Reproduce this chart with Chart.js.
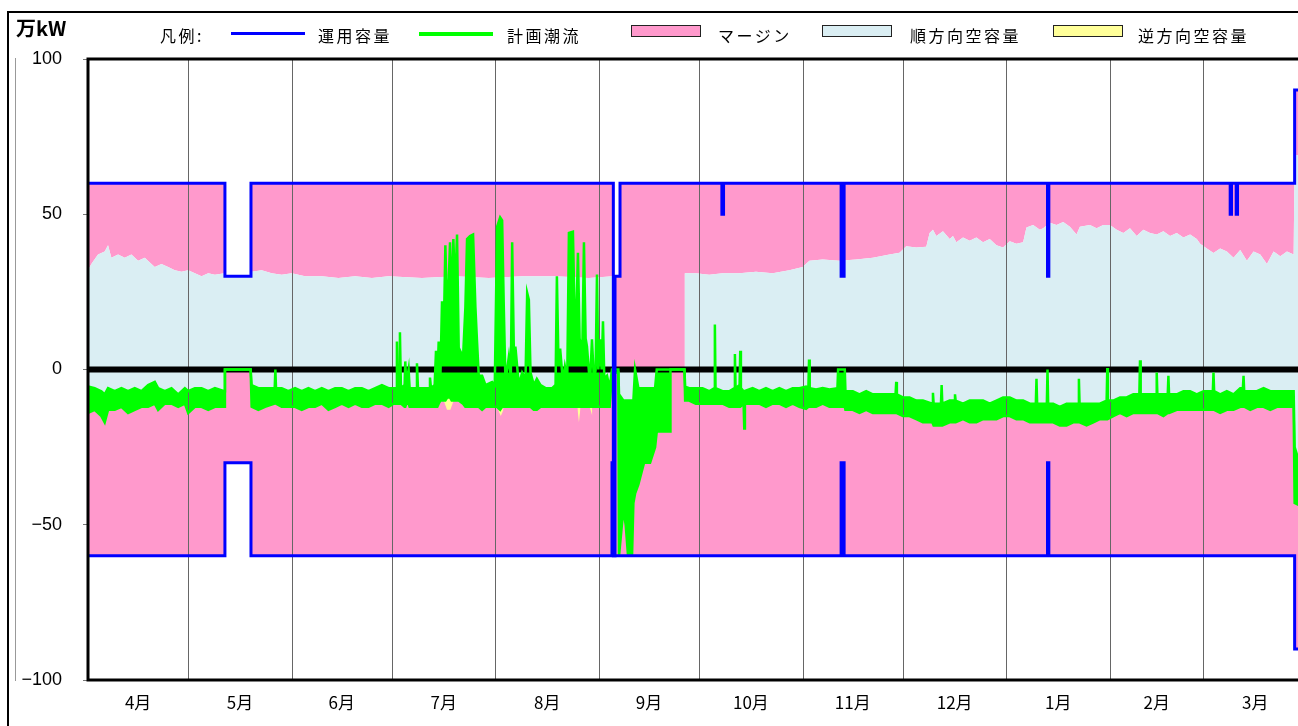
<!DOCTYPE html>
<html lang="ja">
<head>
<meta charset="utf-8">
<title>運用容量・計画潮流</title>
<script src="https://cdn.jsdelivr.net/npm/chart.js@4.4.1/dist/chart.umd.min.js"></script>
<style>
  html, body { margin: 0; padding: 0; background: #fff; overflow: hidden; }
  body { width: 1298px; height: 726px; position: relative; font-family: "Noto Sans CJK JP", "Noto Sans", sans-serif; color: #000; }
  #frame { position: absolute; left: 7px; top: 11px; width: 1400px; height: 800px; border-left: 2px solid #000; border-top: 2px solid #000; }
  #rule { position: absolute; left: 15px; top: 58px; height: 623px; border-left: 1px solid #999; }
  #unit { position: absolute; left: 16px; top: 15px; font-size: 20px; font-weight: bold; line-height: 26px; }
  .lg { position: absolute; top: 24px; font-size: 16px; letter-spacing: 2.5px; line-height: 22px; white-space: nowrap; }
  .ln { position: absolute; top: 32px; height: 3px; width: 74px; }
  .bx { position: absolute; top: 25px; height: 10px; width: 68px; border: 1.5px solid #222; }
  #wrap { position: absolute; left: 0; top: 0; width: 1320px; height: 740px; }
</style>
</head>
<body>
<div id="frame"></div>
<div id="rule"></div>
<div id="wrap"><canvas id="chart"></canvas></div>
<div id="unit">万kW</div>
<div id="legend">
  <span class="lg" style="left:160px">凡例:</span>
  <span class="ln" style="left:231px;background:#0000ff"></span>
  <span class="lg" style="left:318px">運用容量</span>
  <span class="ln" style="left:419px;background:#00ff00;height:4px"></span>
  <span class="lg" style="left:507px">計画潮流</span>
  <span class="bx" style="left:631px;background:#ff99cc"></span>
  <span class="lg" style="left:718px">マージン</span>
  <span class="bx" style="left:822px;background:#daeef3"></span>
  <span class="lg" style="left:910px">順方向空容量</span>
  <span class="bx" style="left:1053px;background:#ffff99"></span>
  <span class="lg" style="left:1138px">逆方向空容量</span>
</div>
<script>
// 横軸は4月1日からの経過日数
const monthStarts = [0, 30, 61, 91, 122, 153, 183, 214, 244, 275, 306, 334, 365];
const monthLabels = ['4月', '5月', '6月', '7月', '8月', '9月', '10月', '11月', '12月', '1月', '2月', '3月'];

// 運用容量（上側・下側）
const capUpDays = [0, 41, 41, 48.8, 48.8, 157.3, 157.3, 157.8, 157.8, 159.3, 159.3, 189.8, 189.8, 190.3, 190.3, 225.5, 225.5, 226.4, 226.4, 287.3, 287.3, 287.7, 287.7, 342, 342, 342.4, 342.4, 343.8, 343.8, 344.2, 344.2, 361.3, 361.3, 365];
const capUp = [60, 60, 30, 30, 60, 60, -60, -60, 30, 30, 60, 60, 50, 50, 60, 60, 30, 30, 60, 60, 30, 30, 60, 60, 50, 50, 60, 60, 50, 50, 60, 60, 90, 90];
const capDownDays = [0, 41, 41, 48.8, 48.8, 156.9, 156.9, 157.3, 157.3, 225.5, 225.5, 226.4, 226.4, 287.3, 287.3, 287.7, 287.7, 361.3, 361.3, 365];
const capDown = [-60, -60, -30, -30, -60, -60, -30, -30, -60, -60, -30, -30, -60, -60, -30, -30, -60, -60, -90, -90];

// 計画潮流（上端・下端）
const flowDays = [
  0, 2, 4, 5, 6, 8, 10, 12, 14, 16, 18, 20, 21, 23, 25, 27, 29,
  30, 32, 34, 36, 38, 40.8, 41, 48.7, 49, 51, 53, 55.9, 56.1, 56.3, 58, 60,
  62, 64, 66, 68, 70, 72, 74, 76, 78, 80, 82, 84, 86, 88, 90,
  91.5, 92.3, 92.5, 92.8, 93.2, 93.4, 93.7, 94.8, 95, 95.3, 96, 96.3, 98.3, 98.5, 98.8, 100, 102.2, 102.4, 102.7, 103.8, 104.2, 104.6, 105, 105.5, 106, 106.5, 107, 107.6, 108.4, 108.9, 109.4, 109.9, 110.5, 111, 112.3, 113, 113.5, 114.4, 115.3, 116, 116.5, 117, 118, 119, 121, 121.8,
  122.5, 123.4, 124, 124.5, 125, 126, 126.6, 127, 127.5, 128, 129, 130, 131, 131.5, 132, 132.5, 133.5, 134.4, 135.5, 137, 139, 140, 140.4, 140.8, 141.4, 142.2, 142.8, 143.5, 144, 145.2, 145.8, 146.3, 146.7, 147.2, 148, 148.5, 149, 149.4, 150.3, 150.9, 151.5, 152, 152.4, 152.8,
  153.3, 153.8, 154.2, 154.6, 155.4, 156.2, 156.9, 158.8, 159, 160.3, 161, 161.7, 162.9, 163.3, 163.8, 164.8, 166.5, 168.3, 169.8, 170.3, 174.3, 174.4, 178.6,
  178.8, 180, 182, 184, 186, 187.5, 187.7, 187.9, 190, 192, 193.5, 193.7, 193.9, 195.1, 195.3, 195.5, 196.3, 196.5, 196.7, 199, 201, 203, 205, 207, 209, 211, 213,
  215, 215.7, 215.9, 216.1, 218, 220, 222, 224.4, 224.6, 226.6, 226.8, 229, 231, 233, 235, 237, 239, 241.8, 242, 242.2, 244,
  246, 248, 250, 252.8, 253, 253.2, 255.4, 255.6, 255.8, 258, 259.4, 259.6, 259.8, 262, 264, 266, 268, 270, 272, 274,
  276, 278, 280, 282, 283.8, 284, 284.2, 286, 287.1, 287.3, 287.5, 289, 291, 293, 295, 296.5, 296.7, 296.9, 299, 301, 303, 305, 305.2, 305.4,
  307, 309, 311, 313, 314.8, 315, 315.2, 317, 319.8, 320, 320.2, 322, 323.3, 323.5, 323.7, 326, 328, 330, 332, 334,
  336, 336.8, 337, 337.2, 339, 341, 343, 345, 345.8, 346, 346.2, 348, 350, 352, 354, 356, 358, 361, 361.3, 365
];
const flowHigh = [
  -5.5, -6, -7, -8, -6, -7, -6, -7, -6, -7, -5, -4, -6, -7, -6, -8, -6,
  -7, -6, -6, -7, -6, -7, 0, 0, -5, -6, -6, -6, 0, -6, -6, -7,
  -6, -7, -6, -7, -6, -7, -6, -6, -7, -6, -6, -7, -6, -5, -6,
  -6, -6, 9, -6, -5, 12, -6, -5, 2.6, -5, 0, -6, -6, 2, -6, -6, -6, -2.6, -6, -5, 6, -4, 9, -3, 22, 10, 40, 15, 41, 20, 42, 25, 43.5, 7, 4, 20, 42, 43, 43.5, 20, 8.7, -2, -2, -5, -4, -5,
  46, 49, 48, 20, -4, 4, -3, 41, 7, 7, -5, -1, -3, 24.7, 22.5, -1, -5, -3, -5, -6, -6, -5, 30, 6.4, 6.4, -4, 1, -3, 44, 44.4, 12, 20, 37.6, 10, 5.4, 41, 10, 7.4, -5, 9.7, -4, 0, 30.6, 0,
  9.7, 0, 15.5, -3, -2, -6, 0, 0, -8, -10, -10, -10, -10, -10, 0, -6, -6, -6, -6, 0, 0, 0, 0,
  -5.5, -6, -6, -6, -7, -6, 14.5, -6, -7, -7, -6, 5, -6, -5, 6, -6, -7, -7, -7, -6, -7, -6, -7, -6, -7, -6, -6,
  -5.5, -6, 3.2, -6, -6.4, -6, -6.4, -6, 0, 0, -7, -7, -8, -7, -8, -8, -8, -8, -4, -8, -9,
  -9, -10, -10, -11, -7.5, -11, -11, -5, -11, -10, -10, -8, -10, -11, -10, -10, -10, -11, -10, -9,
  -9, -10, -10, -11, -11, -3, -11, -11, -11, 0, -11, -11, -12, -11, -11, -11, -3, -11, -11, -11, -11, -10, 0.5, -10,
  -10, -9, -9, -8, -8, 3, -8, -8, -8, -1, -8, -8, -8, -2, -8, -8, -7, -7, -8, -7,
  -7, -7, -1, -7, -8, -7, -8, -6, -6, -2, -7, -7, -7, -6, -7, -7, -7, -7, -25, -38
];
const flowLow = [
  -14, -13, -15, -17, -13, -13, -12, -14, -13, -12, -12, -11, -13, -11, -11, -12, -11,
  -14, -12, -12, -13, -12, -12, 0, 0, -12, -13, -12, -11, -10, -11, -12, -12,
  -12, -13, -12, -12, -11, -13, -12, -11, -12, -11, -12, -12, -11, -11, -12,
  -11, -11, -11, -11, -11, -11, -11, -12, -12, -11, -11, -12, -12, -12, -12, -12, -12, -12, -12, -12, -12, -12, -11, -10, -10, -10, -10, -9, -9, -10, -10, -10, -10, -10, -11, -12, -12, -12, -12, -12, -12, -12, -13, -12, -12, -12,
  -12, -13, -12, -12, -12, -12, -12, -12, -12, -12, -12, -12, -12, -12, -12, -12, -13, -13, -12, -12, -12, -12, -12, -12, -12, -12, -12, -12, -12, -12, -12, -12, -12, -12, -12, -12, -12, -12, -12, -12, -12, -12, -12, -12,
  -12, -12, -12, -12, -12, -12, -1, -1, -60, -45, -50, -60, -60, -43, -40, -37, -30, -30, -25, -20, -20, 0, 0,
  -10, -10, -11, -11, -11, -11, -11, -11, -11, -12, -12, -12, -12, -12, -12, -12, -11, -19, -11, -11, -11, -12, -11, -11, -12, -11, -12,
  -12.7, -12, -12, -12, -12, -11, -12, -12, -12, -12, -13, -13, -14, -13, -14, -14, -14, -14, -14, -14, -15,
  -15, -16, -17, -17, -17, -18, -18, -18, -18, -17, -17, -17, -17, -16, -17, -17, -16, -16, -16, -15,
  -15, -16, -16, -17, -17, -17, -17, -17, -17, -17, -17, -17, -18, -18, -17, -17, -17, -17, -18, -17, -16, -16, -16, -16,
  -15, -14, -15, -14, -14, -14, -14, -14, -14, -14, -14, -15, -14, -14, -14, -13, -13, -13, -13, -13,
  -13, -13, -13, -13, -14, -13, -13, -12, -12, -12, -12, -13, -12, -12, -13, -12, -12, -12, -43, -45
];

// 順方向空容量の上端（＝運用容量－マージン）
const fwdDays = [
  0, 1, 3, 5, 6, 7, 9, 11, 13, 15, 17, 19, 20, 22, 24, 26, 28, 30, 32, 34, 36, 38, 40.9, 41, 48.8, 49, 52, 55, 58, 61,
  65, 70, 75, 80, 85, 90, 100, 110, 120, 130, 140, 150, 157.2, 157.4, 178.6, 178.7, 182, 186, 190, 195, 200, 205, 210, 214,
  216, 220, 225, 230, 235, 240, 243, 245, 248, 251,
  252, 253, 254, 256, 258, 259, 260, 262, 264, 266, 268, 270, 272, 274,
  276, 278, 280, 281, 283, 285, 286, 288, 290, 292, 294, 296, 297, 300, 302, 304, 306,
  308, 310, 312, 314, 316, 318, 320, 322, 324, 326, 328, 330, 332, 333,
  335, 337, 339, 341, 343, 345, 347, 349, 351, 353, 355, 357, 359, 361, 361.3, 365
];
const fwdTop = [
  32, 34, 37, 38, 40, 36, 37, 36, 37, 35, 36, 34, 33, 34, 33, 32, 31.5, 32, 31, 30, 31, 30.5, 31, 30, 30, 31.5, 32, 31, 30.5, 31,
  30, 30, 29.5, 30, 29.5, 30, 29.5, 30, 29.5, 30, 30, 29.5, 30, 0, 0, 31, 31, 30.5, 31, 31, 31.5, 31, 32, 33,
  35, 35.4, 35, 35.4, 36, 37, 37.6, 39.7, 39.3, 39.5,
  44, 45, 43, 44.5, 42, 43, 41, 42.5, 41.5, 42.5, 41, 42, 40, 39.3,
  41.3, 40.5, 41, 45.7, 46.5, 45, 45.5, 47.3, 46.5, 47.5, 46, 43.5, 46, 46.5, 45.5, 46.5, 46.5,
  45, 44, 45.5, 43, 45, 44, 43.5, 44.5, 43, 44, 42.5, 43.5, 42, 40.5,
  39, 37.5, 39, 38, 36, 38.5, 35, 38, 37, 34, 38, 36.5, 38, 37, 69, 69
];

// 逆方向空容量の下端（ごく一部のみ）
const revDays = [106.5, 107.5, 108.5, 109.5, 109.6, 122.8, 123.6, 124.4, 124.5, 146.5, 147, 147.5, 147.6, 150.2, 151, 151.1];
const revBottom = [-10, -13, -13, -10, null, -13, -15, -13, null, -12, -17, -12, null, -12, -15, null];

const BLUE = '#0000ff';
const GREEN = '#00ff00';
const PINK = '#ff99cc';
const LIGHT_BLUE = '#daeef3';
const YELLOW = '#ffff99';

const pts = (days, vals) => days.map((d, i) => ({ x: d, y: vals[i] }));

function area(label, data, target, color) {
    return { label, data, fill: target, backgroundColor: color, borderWidth: 0, borderColor: 'transparent', pointRadius: 0 };
}

// 月の区切り線と 0 の太線は塗りの上、線の下に描く
const overlay = {
    id: 'overlay',
    beforeDatasetsDraw(chart) {
        const { ctx, chartArea: a, scales: { x, y } } = chart;
        ctx.save();
        ctx.strokeStyle = '#666';
        ctx.lineWidth = 1;
        monthStarts.slice(1, -1).forEach(d => {
            const px = Math.round(x.getPixelForValue(d)) + 0.5;
            ctx.beginPath();
            ctx.moveTo(px, a.top);
            ctx.lineTo(px, a.bottom);
            ctx.stroke();
        });
        const y0 = y.getPixelForValue(0);
        ctx.strokeStyle = '#000';
        ctx.lineWidth = 6;
        ctx.beginPath();
        ctx.moveTo(a.left, y0);
        ctx.lineTo(a.right, y0);
        ctx.stroke();
        ctx.restore();
    },
    afterDatasetsDraw(chart) {
        const { ctx, chartArea: a } = chart;
        ctx.save();
        ctx.strokeStyle = '#000';
        ctx.lineWidth = 3;
        ctx.strokeRect(a.left, a.top, a.right - a.left, a.bottom - a.top);
        ctx.restore();
    }
};

new Chart(document.getElementById('chart'), {
    type: 'line',
    data: {
        datasets: [
            { label: '運用容量', data: pts(capUpDays, capUp), borderColor: BLUE, borderWidth: 3, pointRadius: 0, fill: false },
            { label: '運用容量(逆)', data: pts(capDownDays, capDown), borderColor: BLUE, borderWidth: 3, pointRadius: 0, fill: false },
            { label: '計画潮流', data: pts(flowDays, flowHigh), borderColor: GREEN, borderWidth: 2.5, pointRadius: 0, fill: 3, backgroundColor: GREEN },
            { label: '計画潮流(下端)', data: pts(flowDays, flowLow), borderColor: GREEN, borderWidth: 2.5, pointRadius: 0, fill: false },
            area('逆方向空容量', pts(revDays, revBottom), 3, YELLOW),
            area('順方向空容量', pts(fwdDays, fwdTop), 2, LIGHT_BLUE),
            area('マージン', pts(fwdDays, fwdTop), 0, PINK),
            area('マージン(逆)', pts(capDownDays, capDown), 3, PINK)
        ]
    },
    options: {
        responsive: true,
        maintainAspectRatio: false,
        animation: false,
        devicePixelRatio: 1,
        events: [],
        spanGaps: false,
        layout: { padding: { left: 0, top: 59, right: 13, bottom: 0 } },
        plugins: {
            legend: { display: false },
            tooltip: { enabled: false },
            filler: { drawTime: 'beforeDatasetsDraw' }
        },
        scales: {
            x: {
                type: 'linear',
                min: 0,
                max: 365,
                grid: { display: false, drawTicks: false },
                border: { display: false },
                afterBuildTicks: scale => {
                    scale.ticks = monthLabels.map((_, i) => ({ value: (monthStarts[i] + monthStarts[i + 1]) / 2 }));
                },
                afterFit: scale => { scale.height = 60; },
                ticks: {
                    autoSkip: false,
                    maxRotation: 0,
                    padding: 12,
                    color: '#000',
                    font: { family: '"Noto Sans CJK JP", sans-serif', size: 17 },
                    callback: value => {
                        const i = monthStarts.findIndex((d, k) => (d + monthStarts[k + 1]) / 2 === value);
                        return monthLabels[i];
                    }
                }
            },
            y: {
                min: -100,
                max: 100,
                grid: { drawOnChartArea: false, drawTicks: true, tickLength: 5, color: '#777' },
                border: { display: false },
                afterFit: scale => { scale.width = 88; },
                ticks: {
                    stepSize: 50,
                    padding: 21,
                    color: '#000',
                    font: { family: '"Liberation Sans", Arial, sans-serif', size: 18 },
                    callback: v => String(v).replace('-', '\u2212')
                }
            }
        }
    },
    plugins: [overlay]
});
</script>
</body>
</html>
